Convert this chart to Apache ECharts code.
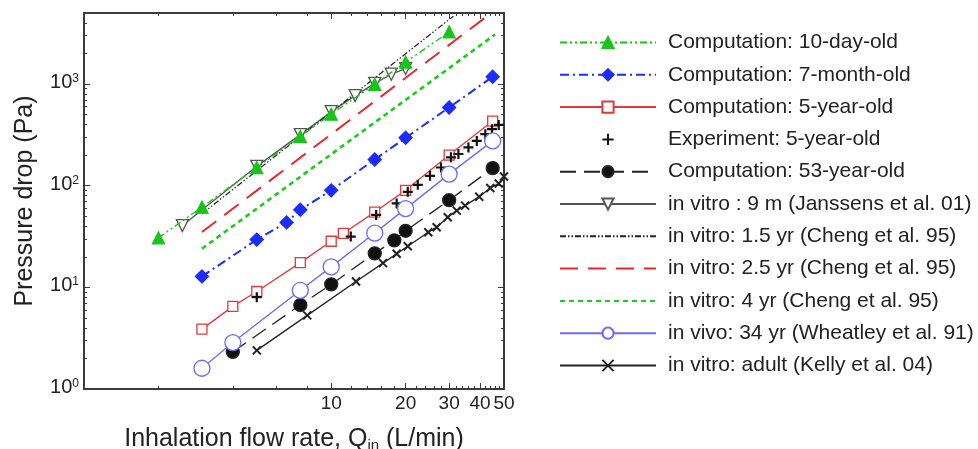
<!DOCTYPE html>
<html><head><meta charset="utf-8">
<script src="https://cdn.jsdelivr.net/npm/echarts@6/dist/echarts.min.js"></script>
<style>html,body{margin:0;padding:0;background:#fff}#c{width:978px;height:449px}</style>
</head><body><div id="c"></div>
<script>
// ---- data (Q in L/min, pressure drop in Pa) ----
const q10day = [2, 3, 5, 7.5, 10, 15, 20, 30];
const p10day = [30.7, 61.5, 151, 305, 505, 995, 1640, 3260];
const q7mo = [3, 5, 6.6, 7.5, 10, 15, 20, 30, 45];
const p7mo = [12.8, 29.5, 43.5, 58, 90, 181, 296, 588, 1180];
const q5yr = [3, 4, 5, 7.5, 10, 11.2, 15, 20, 30, 45];
const p5yr = [3.88, 6.5, 9.1, 17.5, 28.4, 34, 55, 90, 200, 432];
const qExp5 = [5, 12, 15.2, 18.4, 20.4, 22.4, 25.1, 27.8, 30.5, 32.7, 35.9, 38.8, 42, 44.7, 47.6];
const pExp5 = [8, 31.6, 51.6, 67, 87, 102, 125, 151, 190, 205, 238, 276, 321, 360, 396];
const q53 = [4, 7.5, 10, 15, 18, 20, 30, 45];
const p53 = [2.32, 6.7, 10.7, 21.6, 29, 36, 72, 149];
const qJan = [2.5, 5, 7.5, 10, 12.5, 15, 17.5, 20];
const pJan = [40.5, 155, 318, 535, 770, 1015, 1250, 1420];
const qCh15 = [3, 31.2];
const pCh15 = [53, 4650];
const qCh25 = [3, 42.7];
const pCh25 = [35, 4650];
const qCh4 = [3, 46];
const pCh4 = [24, 3070];
const qWh = [3, 4, 7.5, 10, 15, 20, 30, 45];
const pWh = [1.6, 2.86, 9.35, 15.9, 34.2, 59.5, 130, 276];
const qKel = [5, 8, 12.6, 16.2, 18.4, 20.4, 24.7, 26.7, 29.6, 32.2, 34.8, 39.7, 44, 47.6, 50];
const pKel = [2.4, 5.3, 11.4, 17.3, 21.4, 25.4, 34.9, 39, 48.9, 56.9, 63.7, 78, 95, 105, 123];

const seriesNames = [
  'Computation: 10-day-old',
  'Computation: 7-month-old',
  'Computation: 5-year-old',
  'Experiment: 5-year-old',
  'Computation: 53-year-old',
  'in vitro : 9 m (Janssens et al. 01)',
  'in vitro: 1.5 yr (Cheng et al. 95)',
  'in vitro: 2.5 yr (Cheng et al. 95)',
  'in vitro: 4 yr (Cheng et al. 95)',
  'in vivo: 34 yr (Wheatley et al. 91)',
  'in vitro: adult (Kelly et al. 04)'
];

const xMajor = [10, 20, 30, 40, 50];
const xMinor = [2, 4, 6, 8, 12, 14, 16, 18, 22, 24, 26, 28, 32, 34, 36, 38, 42, 44, 46, 48];
const yMajor = [1, 10, 100, 1000];
const yMinor = [2,3,4,5,6,7,8,9,20,30,40,50,60,70,80,90,200,300,400,500,600,700,800,900,2000,3000,4000];

const FONT = 'Liberation Sans, Arial, sans-serif';
const AXC = '#3a3a3a';

function pairs(qs, ps) { return qs.map((q, i) => [q, ps[i]]); }

function xAx(pos, ticks, len, line, label) {
  const a = {
    type: 'log', logBase: 10, min: 1, max: 50, position: pos, gridIndex: 0,
    axisLine: {show: line, onZero: false, lineStyle: {color: AXC, width: 2}},
    axisTick: {show: true, inside: true, length: len, customValues: ticks, lineStyle: {color: AXC, width: 1}},
    axisLabel: {show: label, customValues: ticks, margin: 5, fontSize: 19, color: '#222', fontFamily: FONT},
    splitLine: {show: false}, minorTick: {show: false}
  };
  if (label) {
    a.name = 'Inhalation flow rate, Q{sub|in} (L/min)';
    a.nameLocation = 'middle';
    a.nameGap = 36;
    a.nameTextStyle = {fontSize: 25, color: '#222', fontFamily: FONT,
      rich: {sub: {fontSize: 15, color: '#222', fontFamily: FONT, verticalAlign: 'bottom', padding: [13, 0, 0, 0]}}};
  }
  return a;
}
function yAx(pos, ticks, len, line, label) {
  const a = {
    type: 'log', logBase: 10, min: 1, max: 5000, position: pos, gridIndex: 0,
    axisLine: {show: line, onZero: false, lineStyle: {color: AXC, width: 2}},
    axisTick: {show: true, inside: true, length: len, customValues: ticks, lineStyle: {color: AXC, width: 1}},
    axisLabel: {show: label, customValues: ticks, margin: 5, color: '#222', fontFamily: FONT,
      formatter: v => '{b|10}{s|' + Math.round(Math.log10(v)) + '}',
      rich: {b: {fontSize: 20, color: '#222', fontFamily: FONT, padding: [0, 0, 3, 0]}, s: {fontSize: 12, color: '#222', fontFamily: FONT, verticalAlign: 'top'}}},
    splitLine: {show: false}, minorTick: {show: false}
  };
  if (label) {
    a.name = 'Pressure drop (Pa)';
    a.nameLocation = 'middle';
    a.nameGap = 46;
    a.nameTextStyle = {fontSize: 25, color: '#222', fontFamily: FONT};
  }
  return a;
}

function lineSeries(name, data, color, width, type, symbol, size, fill, extra) {
  return Object.assign({
    name, type: 'line', data, xAxisIndex: 0, yAxisIndex: 0,
    symbol, symbolSize: size, showSymbol: true, showAllSymbol: true, clip: true,
    lineStyle: {color, width, type},
    itemStyle: {color: fill, borderColor: color, borderWidth: 1.3},
    emphasis: {disabled: true}, animation: false
  }, extra || {});
}

const PLUS = 'path://M5,0L5,10M0,5L10,5';
const CROSS = 'path://M0,0L10,10M10,0L0,10';
const NOFILL = {color: 'rgba(0,0,0,0)', borderColor: 'rgba(0,0,0,0)', borderWidth: 0};

const series = [
  lineSeries(seriesNames[0], pairs(q10day, p10day), '#19c419', 1.4, [7, 3, 2, 3, 2, 3], 'triangle', 12, '#19c419', {z: 5}),
  lineSeries(seriesNames[1], pairs(q7mo, p7mo), '#1c2cff', 2, [9, 4, 2, 4], 'diamond', 13, '#1c2cff'),
  lineSeries(seriesNames[2], pairs(q5yr, p5yr), '#e5383b', 1.3, 'solid', 'rect', 10, '#ffffff'),
  lineSeries(seriesNames[3], pairs(qExp5, pExp5), '#111111', 0, 'solid', PLUS, 10, '#111111',
    {itemStyle: {color: '#111', borderColor: '#111', borderWidth: 2.2}, lineStyle: {width: 0, color: '#111'}}),
  lineSeries(seriesNames[4], pairs(q53, p53), '#222222', 1.3, [16, 8], 'circle', 13, '#111111'),
  lineSeries(seriesNames[5], pairs(qJan, pJan), '#555555', 1.3, 'solid', 'triangle', 12, '#ffffff', {symbolRotate: 180}),
  lineSeries(seriesNames[6], pairs(qCh15, pCh15), '#222222', 1.2, [6, 2, 1.5, 2, 1.5, 2], 'none', 0, '#222222', {itemStyle: NOFILL}),
  lineSeries(seriesNames[7], pairs(qCh25, pCh25), '#e8282c', 2, [18, 10], 'none', 0, '#e8282c', {itemStyle: NOFILL}),
  lineSeries(seriesNames[8], pairs(qCh4, pCh4), '#1ccc1c', 2.6, [5, 4], 'none', 0, '#1ccc1c', {itemStyle: NOFILL}),
  lineSeries(seriesNames[9], pairs(qWh, pWh), '#6a6af2', 1.3, 'solid', 'circle', 16, '#ffffff'),
  lineSeries(seriesNames[10], pairs(qKel, pKel), '#222222', 1.3, 'solid', CROSS, 8, '#222222',
    {itemStyle: {color: '#222', borderColor: '#222', borderWidth: 2}})
];

const chart = echarts.init(document.getElementById('c'), null, {renderer: 'canvas'});
chart.setOption({
  animation: false,
  backgroundColor: '#ffffff',
  grid: {left: 84, right: 474, top: 13, bottom: 60, containLabel: false, outerBoundsMode: 'none'},
  xAxis: [
    xAx('bottom', xMajor, 6, true, true),
    xAx('bottom', xMinor, 3, false, false),
    xAx('top', xMajor, 6, true, false),
    xAx('top', xMinor, 3, false, false)
  ],
  yAxis: [
    yAx('left', yMajor, 6, true, true),
    yAx('left', yMinor, 3, false, false),
    yAx('right', yMajor, 6, true, false),
    yAx('right', yMinor, 3, false, false)
  ],
  legend: {
    orient: 'vertical', left: 554, top: 27, itemWidth: 96, itemHeight: 14, itemGap: 11.3,
    data: seriesNames, selectedMode: false,
    textStyle: {fontSize: 21, color: '#222', fontFamily: FONT, lineHeight: 21, padding: [0, 0, 0, 7]}
  },
  series
});
</script></body></html>
